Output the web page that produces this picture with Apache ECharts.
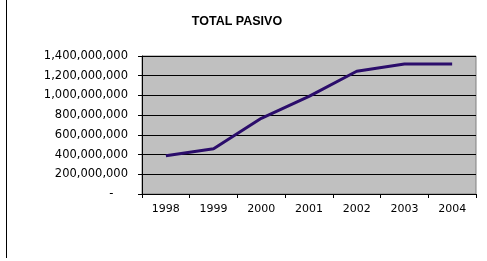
<!DOCTYPE html>
<html><head><meta charset="utf-8">
<script src="https://cdn.jsdelivr.net/npm/echarts@6/dist/echarts.min.js"></script>
<style>html,body{margin:0;padding:0;background:#fff}#c{width:487px;height:261px}</style>
</head><body><div id="c"></div>
<script>
const categories = ['1998','1999','2000','2001','2002','2003','2004'];
const totalPasivo = [389000000, 458000000, 768000000, 990000000, 1245000000, 1318000000, 1318000000];
const yTicks = {min: 0, max: 1400000000, interval: 200000000};
const chartTitle = 'TOTAL PASIVO';

function fmt(v){
  if (v === 0) return '-    ';
  return String(v).replace(/\B(?=(\d{3})+(?!\d))/g, ',');
}
const chart = echarts.init(document.getElementById('c'), null, {renderer:'canvas'});
chart.setOption({
  animation: false,
  backgroundColor: '#ffffff',
  title: {text: chartTitle, left: 232, top: 10, textAlign: 'center',
    textStyle: {fontFamily: 'Liberation Sans', fontWeight: 'bold', fontSize: 12.5, color: '#000'}},
  grid: {left: 142, right: 11, top: 56, bottom: 67, show: true, backgroundColor: '#c0c0c0', borderColor: '#808080', borderWidth: 1},
  graphic: [{type: 'line', shape: {x1: 6.5, y1: 0, x2: 6.5, y2: 258}, style: {stroke: '#000', lineWidth: 1}}],
  xAxis: {type: 'category', data: categories, boundaryGap: true,
    axisLine: {lineStyle: {color: '#000', width: 1}},
    axisTick: {show: true, length: 4, lineStyle: {color: '#000'}},
    axisLabel: {margin: 10, fontFamily: 'DejaVu Sans', fontSize: 11, color: '#000'},
    splitLine: {show: false}},
  yAxis: {type: 'value', min: yTicks.min, max: yTicks.max, interval: yTicks.interval,
    axisLine: {show: true, lineStyle: {color: '#000', width: 1}},
    axisTick: {show: true, length: 4, lineStyle: {color: '#000'}},
    axisLabel: {margin: 14, fontFamily: 'DejaVu Sans', fontSize: 11.5, color: '#000', formatter: fmt},
    splitLine: {show: true, lineStyle: {color: '#000', width: 1}}},
  series: [{type: 'line', data: totalPasivo, symbol: 'none', lineStyle: {color: '#2b0d6b', width: 3}}]
});
</script></body></html>
